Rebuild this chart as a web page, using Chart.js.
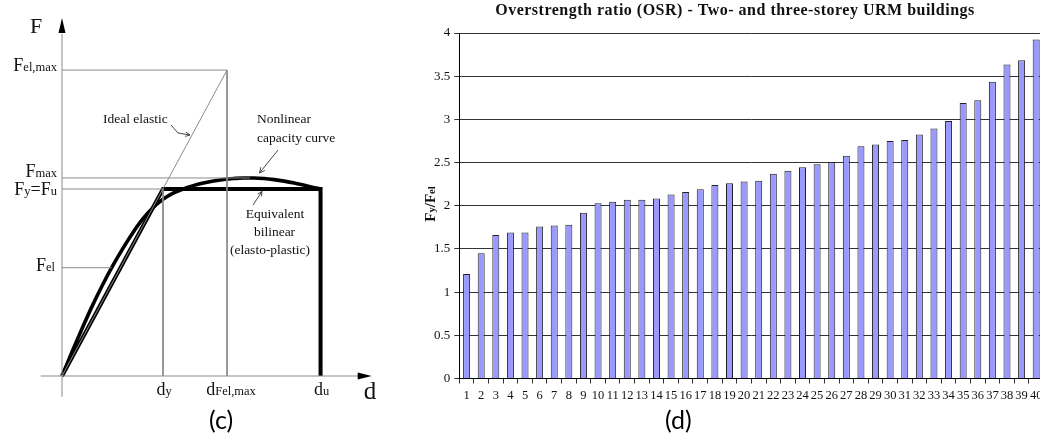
<!DOCTYPE html>
<html><head><meta charset="utf-8">
<script src="https://cdn.jsdelivr.net/npm/chart.js@4.4.1/dist/chart.umd.min.js"></script>
<style>
html,body{margin:0;padding:0;width:1040px;height:438px;overflow:hidden;background:#fff;}
#c{position:absolute;left:0;top:0;}
#d{position:absolute;left:400px;top:0;}
.cap{position:absolute;font-family:Lato,'Noto Sans',sans-serif;font-size:25px;line-height:30px;color:#000;}
</style></head><body>
<canvas id="c" width="400" height="438"></canvas>
<canvas id="d" width="660" height="438"></canvas>
<div class="cap" style="left:209px;top:404px">(c)</div>
<div class="cap" style="left:665px;top:404px">(d)</div>
<script>
// ---------- (c) capacity curve diagram : characteristic values ----------
const dYield = 1.0, dFelMax = 1.634, dUlt = 2.56, dPeak = 1.86, dFelCross = 0.49;
const FYield = 1.0, FelMax = 1.636, FMax = 1.059, FElastic = 0.579;
// nonlinear capacity curve (d, F)
const curveD = [0,0.1,0.2,0.3,0.4,0.5,0.6,0.7,0.8,0.9,1.0,1.1,1.2,1.3,1.4,1.5,1.6,1.7,1.8,1.9,2.0,2.1,2.2,2.3,2.4,2.5,2.56];
const curveF = [0,0.13,0.255,0.375,0.485,0.587,0.68,0.765,0.84,0.90,0.945,0.978,1.0,1.018,1.032,1.043,1.051,1.056,1.059,1.059,1.056,1.05,1.042,1.032,1.02,1.007,1.0];
// equivalent bilinear (elasto-plastic)
const bilinD = [0, dYield, dUlt, dUlt];
const bilinF = [0, FYield, FYield, 0];
// axis extents
const axisD = [-0.211, 2.93];
const axisF = [-0.111, 1.83];

// ---------- (d) overstrength ratio bar chart ----------
const buildings = ['1','2','3','4','5','6','7','8','9','10','11','12','13','14','15','16','17','18','19','20',
  '21','22','23','24','25','26','27','28','29','30','31','32','33','34','35','36','37','38','39','40'];
const osr = [1.21,1.45,1.66,1.69,1.69,1.76,1.77,1.78,1.92,2.03,2.045,2.07,2.07,2.085,2.13,2.16,2.19,2.24,2.26,2.28,
  2.29,2.37,2.405,2.445,2.48,2.505,2.58,2.69,2.71,2.75,2.76,2.825,2.895,2.98,3.19,3.22,3.435,3.635,3.685,3.925];
const osrTicks = [0,0.5,1,1.5,2,2.5,3,3.5,4];
const osrTickLabels = ['0','0.5','1','1.5','2','2.5','3','3.5','4'];
const chartTitle = 'Overstrength ratio (OSR) - Two- and three-storey URM buildings';

// ---------------------------------------------------------------
const SERIF = '"Liberation Serif","DejaVu Serif",serif';
function rich(ctx, parts, x, y, align, bold){
  const b = bold ? 'bold ' : '';
  let w = 0;
  parts.forEach(p => { ctx.font = b + p[1] + 'px ' + SERIF; w += ctx.measureText(p[0]).width; });
  let cx = align === 'right' ? x - w : (align === 'center' ? x - w / 2 : x);
  ctx.textAlign = 'left'; ctx.textBaseline = 'alphabetic';
  parts.forEach(p => { ctx.font = b + p[1] + 'px ' + SERIF; ctx.fillText(p[0], cx, y); cx += ctx.measureText(p[0]).width; });
}
function pts(ds, fs){ return ds.map((d, i) => ({x: d, y: fs[i]})); }
function arrow(ctx, pts, head){
  ctx.beginPath(); ctx.moveTo(pts[0][0], pts[0][1]);
  for (let i = 1; i < pts.length; i++) ctx.lineTo(pts[i][0], pts[i][1]);
  ctx.stroke();
  const a = pts[pts.length - 1], b = pts[pts.length - 2];
  const ang = Math.atan2(a[1] - b[1], a[0] - b[0]);
  ctx.beginPath();
  ctx.moveTo(a[0] - head * Math.cos(ang - 0.45), a[1] - head * Math.sin(ang - 0.45));
  ctx.lineTo(a[0], a[1]);
  ctx.lineTo(a[0] - head * Math.cos(ang + 0.45), a[1] - head * Math.sin(ang + 0.45));
  ctx.stroke();
}

const THIN = '#8a8a8a';
function thin(data){ return {data, borderColor: THIN, borderWidth: 1, pointRadius: 0, showLine: true, clip: false}; }

const OX = 62, OY = 376, PXD = 101, PXF = 187, CW = 400, CH = 438;

const diagPlugin = {
  id: 'diag',
  afterDatasetsDraw(chart){
    const ctx = chart.ctx, sx = chart.scales.x, sy = chart.scales.y;
    const X = v => sx.getPixelForValue(v), Y = v => sy.getPixelForValue(v);
    ctx.save();
    // axis arrowheads
    ctx.fillStyle = '#000';
    const ty = Y(1.914), tx = X(3.066);
    ctx.beginPath(); ctx.moveTo(X(0), ty); ctx.lineTo(X(0) - 3.5, ty + 15); ctx.lineTo(X(0) + 3.5, ty + 15); ctx.closePath(); ctx.fill();
    ctx.beginPath(); ctx.moveTo(tx, Y(0)); ctx.lineTo(tx - 14, Y(0) - 3.5); ctx.lineTo(tx - 14, Y(0) + 3.5); ctx.closePath(); ctx.fill();
    ctx.fillStyle = '#111';
    // axis names
    rich(ctx, [['F', 22]], X(0) - 32, Y(1.914) + 15, 'left');
    rich(ctx, [['d', 25]], tx - 8, Y(0) + 23, 'left');
    // force labels
    const lx = X(0) - 5;
    rich(ctx, [['F', 18], ['el,max', 12.5]], lx, Y(FelMax) + 1, 'right');
    rich(ctx, [['F', 18], ['max', 12.5]], lx, Y(FMax) - 1, 'right');
    rich(ctx, [['F', 18], ['y', 12.5], ['=', 18], ['F', 18], ['u', 12.5]], lx, Y(FYield) + 6, 'right');
    rich(ctx, [['F', 18], ['el', 12.5]], lx - 2, Y(FElastic) + 3, 'right');
    // displacement labels
    const by = Y(0) + 19;
    rich(ctx, [['d', 18], ['y', 12.5]], X(dYield) + 1, by, 'center');
    rich(ctx, [['d', 18], ['Fel,max', 12.5]], X(dFelMax) + 4, by, 'center');
    rich(ctx, [['d', 18], ['u', 12.5]], X(dUlt) + 1, by, 'center');
    // annotations
    rich(ctx, [['Ideal elastic', 13.5]], 103, 123, 'left');
    rich(ctx, [['Nonlinear', 13.5]], 257, 123, 'left');
    rich(ctx, [['capacity curve', 13.5]], 257, 142, 'left');
    rich(ctx, [['Equivalent', 13.5]], 275, 218, 'center');
    rich(ctx, [['bilinear', 13.5]], 274.5, 236, 'center');
    rich(ctx, [['(elasto-plastic)', 13.5]], 270, 254, 'center');
    ctx.strokeStyle = '#333'; ctx.lineWidth = 0.9;
    arrow(ctx, [[171, 125], [178, 133], [190, 135]], 5);
    arrow(ctx, [[278, 150], [259.5, 173]], 6);
    arrow(ctx, [[253, 205], [262, 191.5]], 5);
    ctx.restore();
  }
};

new Chart(document.getElementById('c'), {
  type: 'scatter',
  data: {
    datasets: [
      thin([{x: 0, y: axisF[0]}, {x: 0, y: axisF[1]}]),
      thin([{x: axisD[0], y: 0}, {x: axisD[1], y: 0}]),
      thin([{x: 0, y: FelMax}, {x: dFelMax, y: FelMax}, {x: dFelMax, y: 0}]),
      thin([{x: 0, y: 0}, {x: dFelMax, y: FelMax}]),
      thin([{x: 0, y: FMax}, {x: dPeak, y: FMax}]),
      thin([{x: 0, y: FYield}, {x: dYield, y: FYield}, {x: dYield, y: 0}]),
      thin([{x: 0, y: FElastic}, {x: dFelCross, y: FElastic}]),
      {data: pts(curveD, curveF), borderColor: '#000', borderWidth: 3.6, pointRadius: 0, showLine: true, cubicInterpolationMode: 'monotone', clip: false},
      {data: pts(bilinD, bilinF), borderColor: '#000', borderWidth: 4, pointRadius: 0, showLine: true, borderJoinStyle: 'miter', clip: false}
    ]
  },
  options: {
    responsive: false, animation: false, events: [],
    layout: {padding: 0},
    plugins: {legend: {display: false}, tooltip: {enabled: false}},
    scales: {
      x: {type: 'linear', display: false, min: -OX / PXD, max: (CW - OX) / PXD},
      y: {type: 'linear', display: false, min: -(CH - OY) / PXF, max: OY / PXF}
    }
  },
  plugins: [diagPlugin]
});

const osrPlugin = {
  id: 'osrText',
  afterDraw(chart){
    const ctx = chart.ctx;
    ctx.save();
    ctx.fillStyle = '#111';
    ctx.font = 'bold 16px ' + SERIF; ctx.textAlign = 'center'; ctx.textBaseline = 'alphabetic';
    ctx.letterSpacing = '0.5px';
    ctx.fillText(chartTitle, 335, 15);
    ctx.letterSpacing = '0px';
    ctx.translate(35, 204); ctx.rotate(-Math.PI / 2);
    rich(ctx, [['F', 15], ['y', 10.5], ['/F', 15], ['el', 10.5]], 0, 0, 'center', true);
    ctx.restore();
  }
};

const tickFont = {family: SERIF, size: 12.5};
new Chart(document.getElementById('d'), {
  type: 'bar',
  data: {labels: buildings, datasets: [{data: osr, backgroundColor: '#9999ff', borderColor: '#222', borderWidth: 1,
    barPercentage: 0.48, categoryPercentage: 1, borderSkipped: 'start'}]},
  options: {
    responsive: false, animation: false, events: [],
    layout: {padding: {left: 0, top: 33, right: 16.5, bottom: 0}},
    plugins: {legend: {display: false}, tooltip: {enabled: false}},
    scales: {
      x: {grid: {offset: true, drawOnChartArea: false, drawTicks: true, tickLength: 5, color: '#333'},
          border: {color: '#000'},
          ticks: {autoSkip: false, maxRotation: 0, minRotation: 0, padding: 5, font: tickFont, color: '#111'},
          afterFit: s => { s.height = 59.5; }},
      y: {min: 0, max: 4, grid: {color: '#333', tickLength: 5}, border: {color: '#000'},
          ticks: {padding: 4, font: {family: SERIF, size: 13}, color: '#111',
                  callback: (v, i) => osrTickLabels[i]},
          afterBuildTicks: s => { s.ticks = osrTicks.map(v => ({value: v})); },
          afterFit: s => { s.width = 59.3; }}
    }
  },
  plugins: [osrPlugin]
});
</script>
</body></html>
